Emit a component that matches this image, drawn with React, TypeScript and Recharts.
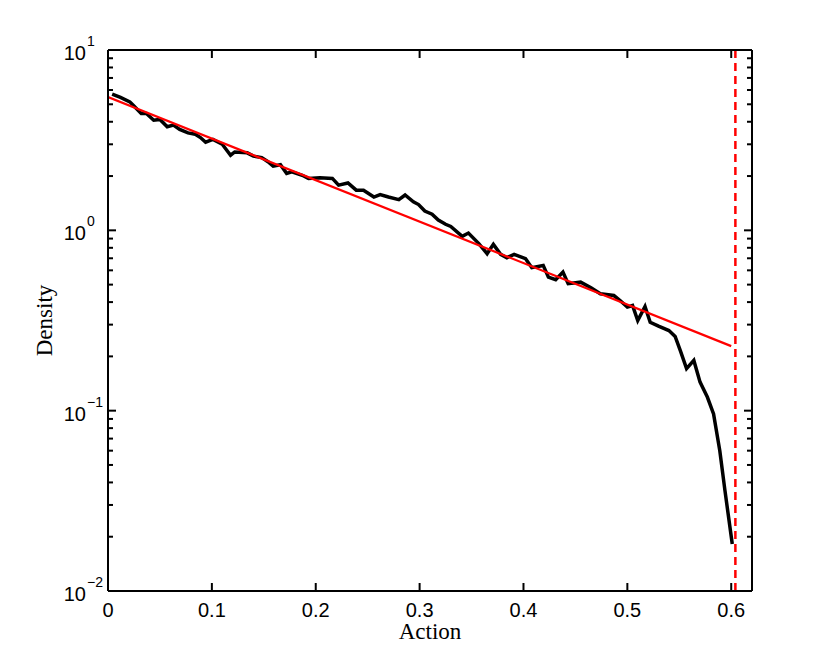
import { LineChart, Line, XAxis, YAxis, ReferenceLine } from "recharts";

const actionX = [
  0.004, 0.012, 0.021, 0.024, 0.032, 0.037, 0.044, 0.05, 0.057, 0.063,
  0.069, 0.077, 0.084, 0.089, 0.094, 0.101, 0.11, 0.118, 0.122, 0.134,
  0.14, 0.148, 0.154, 0.159, 0.166, 0.172, 0.177, 0.187, 0.193, 0.204,
  0.216, 0.222, 0.231, 0.239, 0.246, 0.256, 0.262, 0.27, 0.28, 0.286,
  0.294, 0.299, 0.305, 0.312, 0.318, 0.325, 0.33, 0.341, 0.347, 0.357,
  0.365, 0.371, 0.378, 0.384, 0.391, 0.402, 0.408, 0.419, 0.424, 0.431,
  0.438, 0.443, 0.455, 0.465, 0.474, 0.487, 0.493, 0.5, 0.505, 0.51,
  0.517, 0.522, 0.53, 0.54, 0.546, 0.551, 0.557, 0.564, 0.57, 0.577,
  0.583, 0.589, 0.594, 0.601,
];
const density = [
  5.7, 5.46, 5.16, 4.95, 4.45, 4.45, 4.08, 4.12, 3.75, 3.83,
  3.63, 3.47, 3.41, 3.27, 3.08, 3.19, 3.0, 2.61, 2.72, 2.69,
  2.58, 2.53, 2.4, 2.27, 2.31, 2.07, 2.11, 2.02, 1.94, 1.96,
  1.94, 1.78, 1.83, 1.67, 1.67, 1.53, 1.58, 1.53, 1.48, 1.57,
  1.44, 1.39, 1.28, 1.23, 1.14, 1.08, 1.05, 0.926, 0.966, 0.844,
  0.742, 0.836, 0.736, 0.705, 0.736, 0.696, 0.621, 0.639, 0.55, 0.532,
  0.587, 0.506, 0.516, 0.48, 0.445, 0.435, 0.408, 0.375, 0.383, 0.316,
  0.378, 0.309, 0.294, 0.278, 0.258, 0.215, 0.171, 0.19, 0.144, 0.119,
  0.0959, 0.06, 0.0359, 0.0182,
];

// exponential fit
const fitX = [0, 0.6];
const fitDensity = [5.48, 0.228];

const cutoff = 0.604;

const xTicks = [0, 0.1, 0.2, 0.3, 0.4, 0.5, 0.6];
const yTicks = [
  0.01, 0.02, 0.03, 0.04, 0.05, 0.06, 0.07, 0.08, 0.09,
  0.1, 0.2, 0.3, 0.4, 0.5, 0.6, 0.7, 0.8, 0.9,
  1, 2, 3, 4, 5, 6, 7, 8, 9, 10,
];

const densityData = actionX.map((x, i) => ({ x, y: density[i] }));
const fitData = fitX.map((x, i) => ({ x, y: fitDensity[i] }));

const SANS = '"Liberation Sans", Arial, Helvetica, sans-serif';
const SERIF = '"Liberation Serif", "Times New Roman", serif';

const isMajor = (v: number) => Math.abs(Math.log10(v) - Math.round(Math.log10(v))) < 1e-6;

function LeftTick({ x, y, payload }: any) {
  const v = payload.value;
  const major = isMajor(v);
  const exp = Math.round(Math.log10(v));
  return (
    <g>
      <line x1={x} x2={x + (major ? 8 : 5)} y1={y} y2={y} stroke="#000" strokeWidth={2} />
      {major && (
        <>
          <text x={x - 22} y={y + 10} textAnchor="end" fontSize={20} fontFamily={SANS} fill="#000">10</text>
          <text x={x - 21} y={y - 4} textAnchor="start" fontSize={14} fontFamily={SANS} fill="#000">
            {exp < 0 ? "\u2212" + -exp : String(exp)}
          </text>
        </>
      )}
    </g>
  );
}

function RightTick({ x, y, payload }: any) {
  const major = isMajor(payload.value);
  return <line x1={x} x2={x - (major ? 8 : 5)} y1={y} y2={y} stroke="#000" strokeWidth={2} />;
}

function BottomTick({ x, y, payload }: any) {
  const v = payload.value;
  return (
    <g>
      <line x1={x} x2={x} y1={y} y2={y - 8} stroke="#000" strokeWidth={2} />
      <text x={x} y={y + 26} textAnchor="middle" fontSize={20} fontFamily={SANS} fill="#000">
        {v === 0 ? "0" : v.toFixed(1)}
      </text>
    </g>
  );
}

function TopTick({ x, y }: any) {
  return <line x1={x} x2={x} y1={y} y2={y + 8} stroke="#000" strokeWidth={2} />;
}

export default function App() {
  const axisLine = { stroke: "#000", strokeWidth: 2 };
  return (
    <div style={{ position: "absolute", left: 0, top: 0, width: 830, height: 665, background: "#fff" }}>
      <LineChart width={830} height={665} margin={{ top: 49, right: 77, bottom: 0, left: 0 }}>
        <XAxis
          xAxisId="bottom"
          type="number"
          dataKey="x"
          domain={[0, 0.62]}
          ticks={xTicks}
          interval={0}
          allowDataOverflow
          height={74}
          tickSize={0}
          tickMargin={0}
          axisLine={axisLine}
          tickLine={false}
          tick={<BottomTick />}
          label={({ viewBox }: any) => (
            <text
              x={viewBox.x + viewBox.width / 2}
              y={viewBox.y + 48}
              textAnchor="middle"
              fontSize={23}
              fontFamily={SERIF}
              fill="#000"
            >
              Action
            </text>
          )}
        />
        <XAxis
          xAxisId="top"
          orientation="top"
          type="number"
          dataKey="x"
          domain={[0, 0.62]}
          ticks={xTicks}
          interval={0}
          allowDataOverflow
          height={1}
          tickSize={0}
          tickMargin={0}
          axisLine={axisLine}
          tickLine={false}
          tick={<TopTick />}
        />
        <YAxis
          yAxisId="left"
          scale="log"
          domain={[0.01, 10]}
          ticks={yTicks}
          interval={0}
          allowDataOverflow
          width={108}
          tickSize={0}
          tickMargin={0}
          axisLine={axisLine}
          tickLine={false}
          tick={<LeftTick />}
          label={({ viewBox }: any) => {
            const cy = viewBox.y + viewBox.height / 2;
            return (
              <text
                x={52}
                y={cy}
                transform={`rotate(-90, 52, ${cy})`}
                textAnchor="middle"
                fontSize={23}
                fontFamily={SERIF}
                fill="#000"
              >
                Density
              </text>
            );
          }}
        />
        <YAxis
          yAxisId="right"
          orientation="right"
          scale="log"
          domain={[0.01, 10]}
          ticks={yTicks}
          interval={0}
          allowDataOverflow
          width={1}
          tickSize={0}
          tickMargin={0}
          axisLine={axisLine}
          tickLine={false}
          tick={<RightTick />}
        />
        <Line
          xAxisId="bottom"
          yAxisId="left"
          data={densityData}
          dataKey="y"
          type="linear"
          stroke="#000"
          strokeWidth={3.5}
          dot={false}
          isAnimationActive={false}
        />
        <Line
          xAxisId="bottom"
          yAxisId="left"
          data={fitData}
          dataKey="y"
          type="linear"
          stroke="#ff0000"
          strokeWidth={2.2}
          dot={false}
          isAnimationActive={false}
        />
        <ReferenceLine
          xAxisId="bottom"
          yAxisId="left"
          x={cutoff}
          stroke="#ff0000"
          strokeWidth={2.5}
          strokeDasharray="8 5"
        />
      </LineChart>
    </div>
  );
}
